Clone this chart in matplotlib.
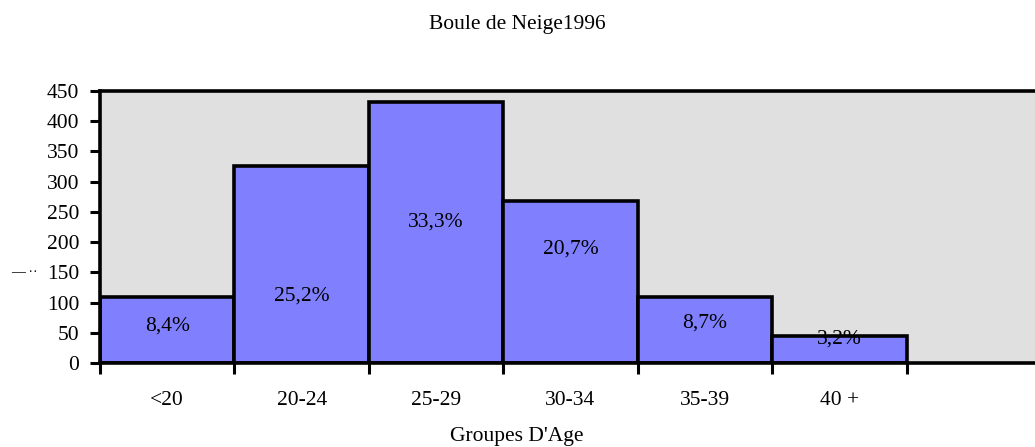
import numpy as np
import matplotlib.pyplot as plt

plt.rcParams['font.family'] = ['Liberation Serif', 'DejaVu Serif']

# data
groups = ['<20', '20-24', '25-29', '30-34', '35-39', '40 +']
counts = [109, 326, 432, 268, 110, 45]
pct_labels = ['8,4%', '25,2%', '33,3%', '20,7%', '8,7%', '3,2%']
label_y = [61, 110, 234, 188, 66, 40]
yticks = [0, 50, 100, 150, 200, 250, 300, 350, 400, 450]

W, H = 1035, 447
fs = 15.5
fig = plt.figure(figsize=(W / 100, H / 100), dpi=100)
ax = fig.add_axes([100 / W, (H - 363) / H, 941 / W, 272 / H])
ax.set_facecolor('#e0e0e0')

x = np.arange(len(groups))
ax.bar(x, counts, width=1.0, color='#8080ff', edgecolor='black', linewidth=2.6)
for xi, lab, ly in zip(x, pct_labels, label_y):
    ax.text(xi, ly, lab, ha='center', va='center', fontsize=fs)

ax.set_xlim(-0.5, 6.5)
ax.set_ylim(0, 450)
ax.set_yticks(yticks)
ax.tick_params(axis='y', direction='out', length=7, width=2.2, labelsize=fs, pad=8)

# ticks between categories, labels at the centres
ax.set_xticks(np.arange(-0.5, len(groups)), minor=False)
ax.set_xticklabels([])
ax.set_xticks(x, minor=True)
ax.set_xticklabels(groups, minor=True)
ax.tick_params(axis='x', which='major', direction='out', length=8, width=2.2)
ax.tick_params(axis='x', which='minor', length=0, labelsize=fs, pad=20)

for s in ['left', 'bottom', 'top']:
    ax.spines[s].set_linewidth(2.6)
ax.spines['right'].set_visible(False)

fig.text(517 / W, 1 - 25 / H, 'Boule de Neige1996', ha='center', va='center', fontsize=fs)
fig.text(517 / W, 1 - 437 / H, "Groupes D'Age", ha='center', va='center', fontsize=fs)
fig.text(24 / W, 1 - 273 / H, '— ··', ha='center', va='center', fontsize=10, rotation=0)

fig.savefig('out.png', dpi=100)
